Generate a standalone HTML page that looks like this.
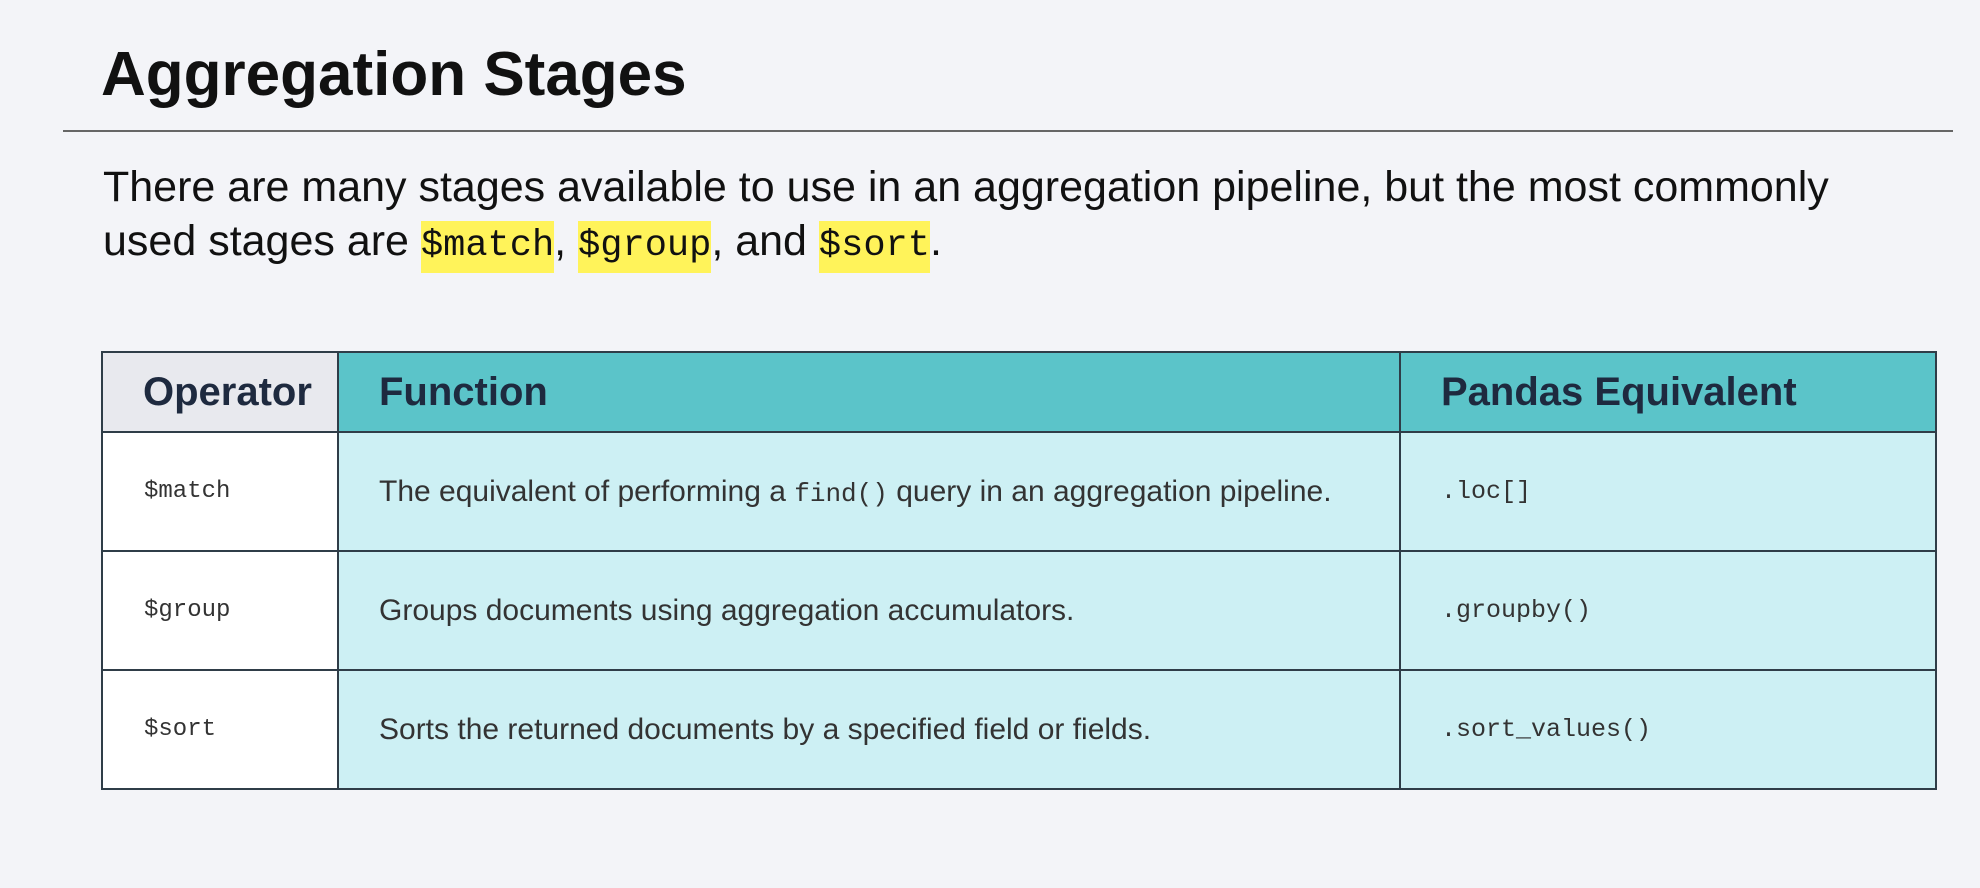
<!DOCTYPE html>
<html><head><meta charset="utf-8"><style>
html,body{margin:0;padding:0;}
body{width:1980px;height:888px;background:#f3f4f8;position:relative;overflow:hidden;font-family:"Liberation Sans",sans-serif;}
.t{position:absolute;left:101px;top:39px;font-size:62px;font-weight:bold;color:#111;letter-spacing:0px;}
.rule{position:absolute;left:63px;width:1890px;top:130px;height:2px;background:#666;}
.p{position:absolute;left:103px;top:160px;font-size:43px;line-height:54px;color:#111;white-space:nowrap;}
.hl{background:#fff35a;font-family:"Liberation Mono",monospace;font-size:37px;padding:4px 0 6px;}
table{position:absolute;left:101px;top:351px;width:1836px;border-collapse:collapse;}
td{border:2px solid #2f3d48;padding:0;vertical-align:middle;}
.h td{height:78px;font-size:40px;font-weight:bold;color:#1e2a3f;}
.h td.op{background:#e8e9ee;padding-left:40px;}
.h td.f{background:#5bc4c9;padding-left:40px;}
.r td{height:117px;font-size:30px;color:#333;background:#cdf0f4;padding-left:40px;}
.r td.op{background:#fff;font-family:"Liberation Mono",monospace;font-size:24px;padding-left:41px;}
.r td.m{font-family:"Liberation Mono",monospace;font-size:25px;}
code{font-family:"Liberation Mono",monospace;font-size:26px;}
</style></head><body>
<div class="t">Aggregation Stages</div>
<div class="rule"></div>
<div class="p">There are many stages available to use in an aggregation pipeline, but the most commonly<br>used stages are <span class="hl">$match</span>, <span class="hl">$group</span>, and <span class="hl">$sort</span>.</div>
<table>
<tr class="h"><td class="op" style="width:194px">Operator</td><td class="f" style="width:1020px">Function</td><td class="f">Pandas Equivalent</td></tr>
<tr class="r"><td class="op">$match</td><td>The equivalent of performing a <code>find()</code> query in an aggregation pipeline.</td><td class="m">.loc[]</td></tr>
<tr class="r"><td class="op">$group</td><td>Groups documents using aggregation accumulators.</td><td class="m">.groupby()</td></tr>
<tr class="r"><td class="op">$sort</td><td>Sorts the returned documents by a specified field or fields.</td><td class="m">.sort_values()</td></tr>
</table>
</body></html>
